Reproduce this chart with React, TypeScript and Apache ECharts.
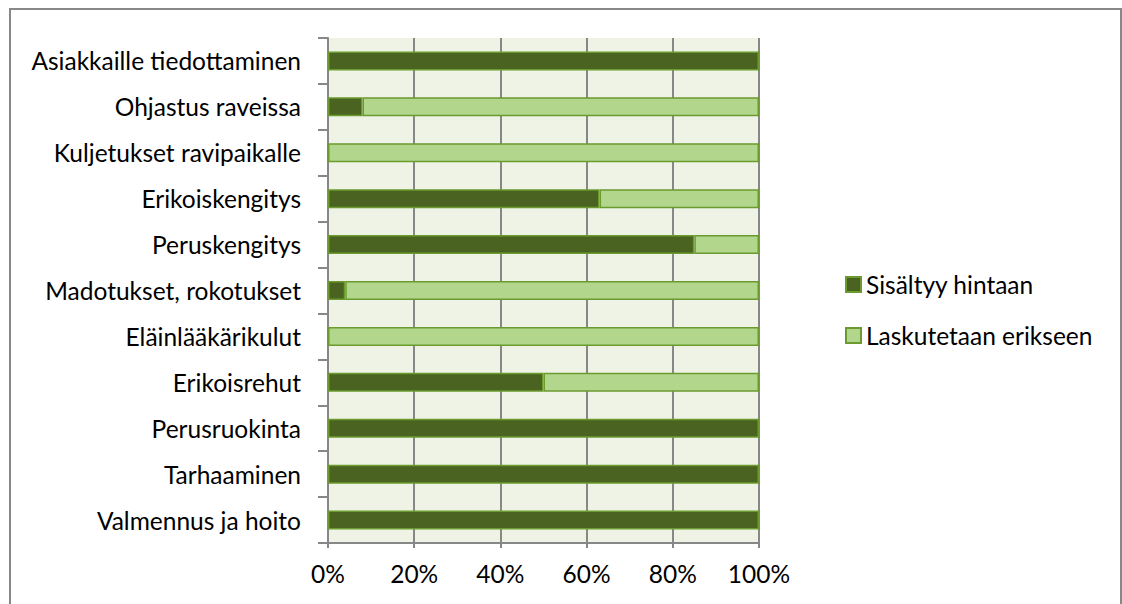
import React, { useEffect, useRef } from "react";
import * as echarts from "echarts";

// Services, listed top to bottom
const categories = [
  "Asiakkaille tiedottaminen",
  "Ohjastus raveissa",
  "Kuljetukset ravipaikalle",
  "Erikoiskengitys",
  "Peruskengitys",
  "Madotukset, rokotukset",
  "Eläinlääkärikulut",
  "Erikoisrehut",
  "Perusruokinta",
  "Tarhaaminen",
  "Valmennus ja hoito",
];

// Share (%) of answers per service
const includedInPrice = [100, 8, 0, 63, 85, 4, 0, 50, 100, 100, 100];
const billedSeparately = [0, 92, 100, 37, 15, 96, 100, 50, 0, 0, 0];

const seriesNames = ["Sisältyy hintaan", "Laskutetaan erikseen"];
const xTicks = { min: 0, max: 100, interval: 20 };

const FONT = "Lato";
const FONT_SIZE = 24.5;

export default function App() {
  const ref = useRef<HTMLDivElement>(null);

  useEffect(() => {
    if (!ref.current) return;
    const chart = echarts.init(ref.current, null, { renderer: "svg" });
    const barBorder = { borderColor: "#6B9B2E", borderWidth: 1.5 };
    chart.setOption({
      animation: false,
      backgroundColor: "#ffffff",
      textStyle: { fontFamily: FONT },
      graphic: [
        {
          type: "rect",
          shape: { x: 10, y: 9, width: 1111, height: 610 },
          style: { fill: "none", stroke: "#888888", lineWidth: 2 },
          silent: true,
        },
      ],
      grid: {
        left: 328,
        right: 363,
        top: 38,
        bottom: 61,
        show: true,
        backgroundColor: "#EEF3E6",
        borderWidth: 0,
      },
      legend: {
        orient: "vertical",
        left: 840,
        top: 267,
        itemWidth: 15,
        itemHeight: 15,
        itemGap: 26,
        icon: "rect",
        textStyle: { fontFamily: FONT, fontSize: FONT_SIZE, color: "#000" },
        data: seriesNames,
      },
      xAxis: {
        type: "value",
        min: xTicks.min,
        max: xTicks.max,
        interval: xTicks.interval,
        axisLine: { show: true, lineStyle: { color: "#878787", width: 2 } },
        axisTick: { show: true, length: 5, lineStyle: { color: "#878787", width: 2 } },
        splitLine: { show: true, lineStyle: { color: "#878787", width: 2 } },
        axisLabel: {
          formatter: "{value}%",
          fontFamily: FONT,
          fontSize: FONT_SIZE,
          color: "#000",
          margin: 18,
        },
      },
      yAxis: {
        type: "category",
        inverse: true,
        data: categories,
        axisLine: { show: true, lineStyle: { color: "#878787", width: 2 } },
        axisTick: { show: true, length: 10, lineStyle: { color: "#878787", width: 2 } },
        axisLabel: {
          fontFamily: FONT,
          fontSize: FONT_SIZE,
          color: "#000",
          margin: 27,
        },
      },
      series: [
        {
          name: seriesNames[0],
          type: "bar",
          stack: "total",
          barWidth: 19,
          data: includedInPrice,
          itemStyle: { color: "#4A6320", ...barBorder },
        },
        {
          name: seriesNames[1],
          type: "bar",
          stack: "total",
          barWidth: 19,
          data: billedSeparately,
          itemStyle: { color: "#B1D68C", ...barBorder },
        },
      ],
    });
    return () => chart.dispose();
  }, []);

  return (
    <div
      ref={ref}
      style={{ position: "fixed", left: 0, top: 0, width: 1122, height: 604 }}
    />
  );
}
